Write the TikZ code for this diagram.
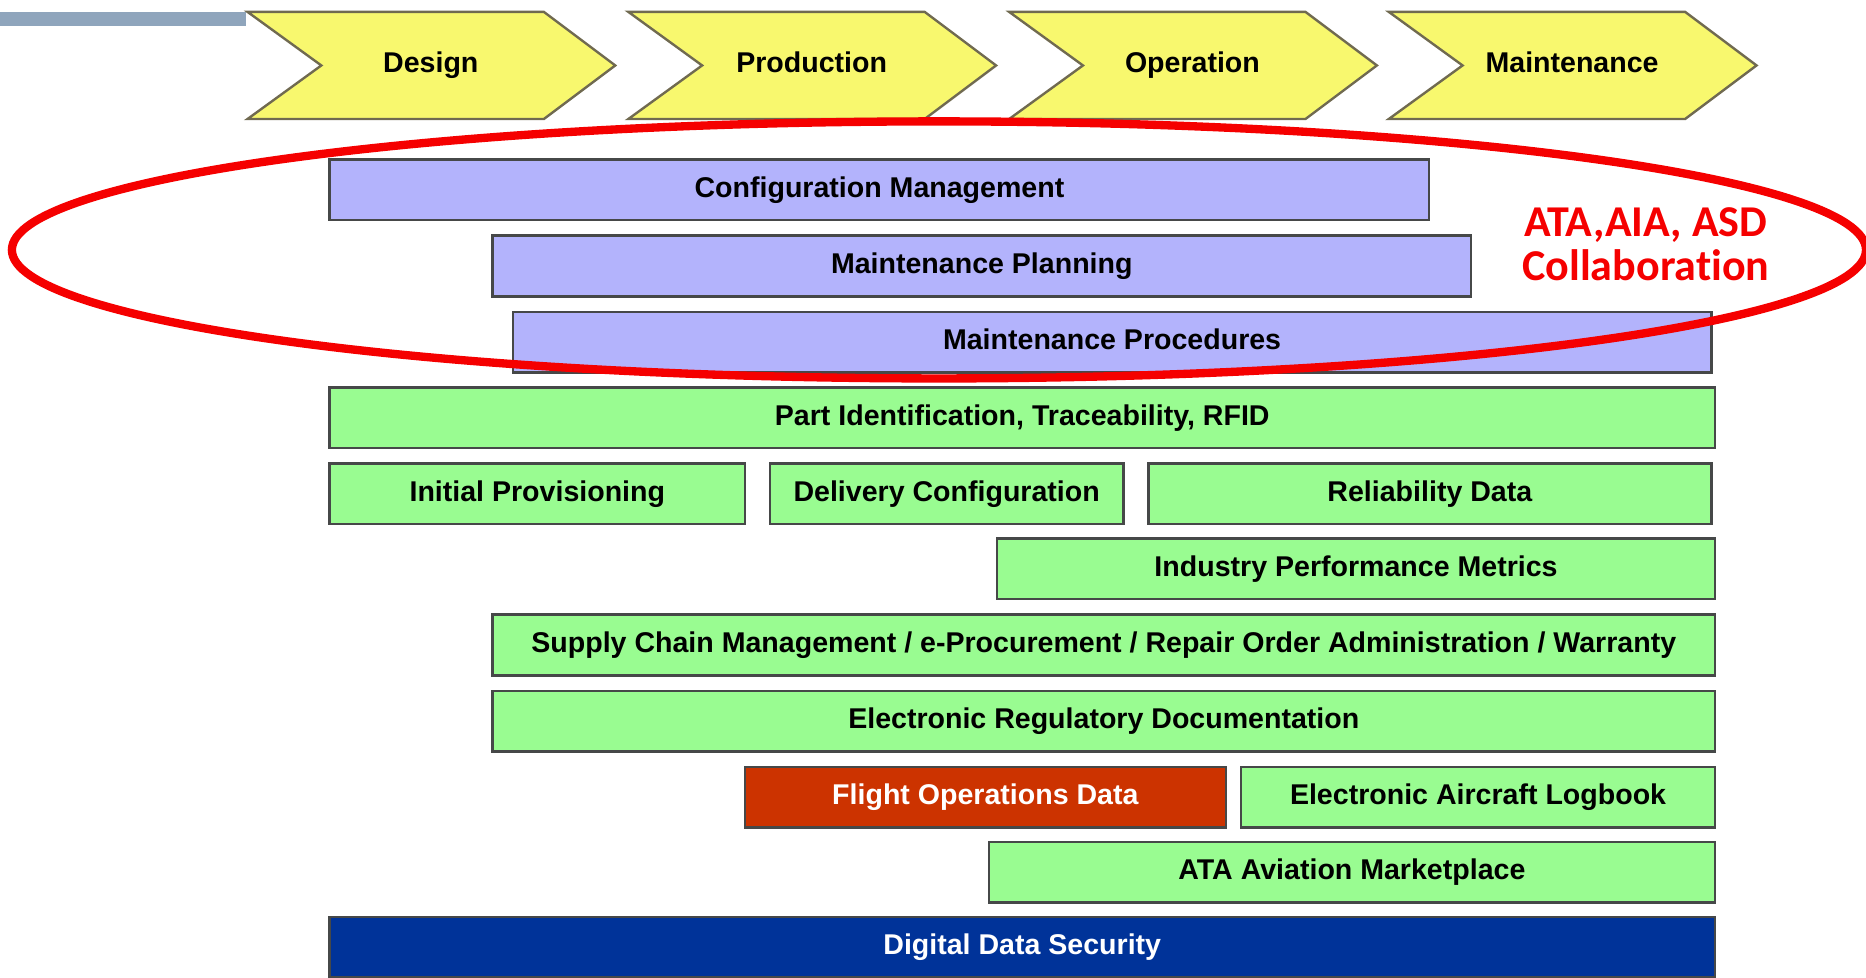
\documentclass[tikz,border=0pt]{standalone}
\usepackage{fontspec}
\setmainfont{Liberation Sans}
\newfontfamily\collabfont[Ligatures={NoCommon}]{Carlito}
\usepackage{xcolor}
\usepackage{tikz}

\definecolor{topbar}{RGB}{143,165,188}
\definecolor{chevfill}{RGB}{248,248,110}
\definecolor{chevline}{RGB}{112,106,80}
\definecolor{lilac}{RGB}{179,179,252}
\definecolor{mint}{RGB}{153,252,145}
\definecolor{barline}{RGB}{70,72,72}
\definecolor{flightred}{RGB}{204,51,0}
\definecolor{secblue}{RGB}{0,51,153}
\definecolor{ovalred}{RGB}{245,0,0}

\begin{document}
\begin{tikzpicture}[x=1pt,y=-1pt,
  chev/.style={fill=chevfill,draw=chevline,line width=2pt},
  chevtext/.style={font=\bfseries\fontsize{24}{28}\selectfont,text height=17.5pt,text depth=5pt},
  bar/.style={draw=barline,line width=2pt,minimum height=51pt,inner sep=0pt,
    text height=17.5pt,text depth=5pt,font=\bfseries\fontsize{24}{28}\selectfont},
  lilacbar/.style={bar,fill=lilac},
  mintbar/.style={bar,fill=mint}]
\useasboundingbox[fill=white] (0,0) rectangle (1568,821);
\fill[topbar] (0,10) rectangle (207,22);
% phases
\foreach \x/\lab/\nm in {208/Design/design,528/Production/production,848/Operation/operation,1167/Maintenance/maintenance} {
  \filldraw[chev] (\x,10) -- ++(249,0) -- ++(60,45) -- ++(-60,45) -- ++(-249,0) -- ++(62,-45) -- cycle;
  \node[chevtext] (\nm) at (\x+154,55) {\lab};
}
% data layers
\node[lilacbar,minimum width=924pt] (config) at (739,159.5) {Configuration Management};
\node[lilacbar,minimum width=822pt] (planning) at (825,223.5) {Maintenance Planning};
\node[lilacbar,minimum width=1007pt] (procedures) at (934.5,287.5) {Maintenance Procedures};
\node[mintbar,minimum width=1164pt] (partid) at (859,351) {Part Identification, Traceability, RFID};
\node[mintbar,minimum width=349pt] (provisioning) at (451.5,415) {Initial Provisioning};
\node[mintbar,minimum width=297pt] (delivery) at (795.5,415) {Delivery Configuration};
\node[mintbar,minimum width=473pt] (reliability) at (1201.5,415) {Reliability Data};
\node[mintbar,minimum width=603pt] (metrics) at (1139.5,478) {Industry Performance Metrics};
\node[mintbar,minimum width=1027pt] (supply) at (927.5,542) {Supply Chain Management / e-Procurement / Repair Order Administration / Warranty};
\node[mintbar,minimum width=1027pt] (regulatory) at (927.5,606) {Electronic Regulatory Documentation};
\node[bar,fill=flightred,text=white,minimum width=404pt] (flightops) at (828,670) {Flight Operations Data};
\node[mintbar,minimum width=398pt] (logbook) at (1242,670) {Electronic Aircraft Logbook};
\node[mintbar,minimum width=610pt] (marketplace) at (1136,733) {ATA Aviation Marketplace};
\node[bar,fill=secblue,text=white,minimum width=1164pt] (security) at (859,796) {Digital Data Security};
% collaboration
\draw[ovalred,line width=7pt] (789,210) ellipse (779 and 108);
\node[text=ovalred,align=center,font=\collabfont\bfseries\fontsize{37}{37}\selectfont] (collab) at (1383,205) {ATA,AIA, ASD\\Collaboration};
\end{tikzpicture}
\end{document}
